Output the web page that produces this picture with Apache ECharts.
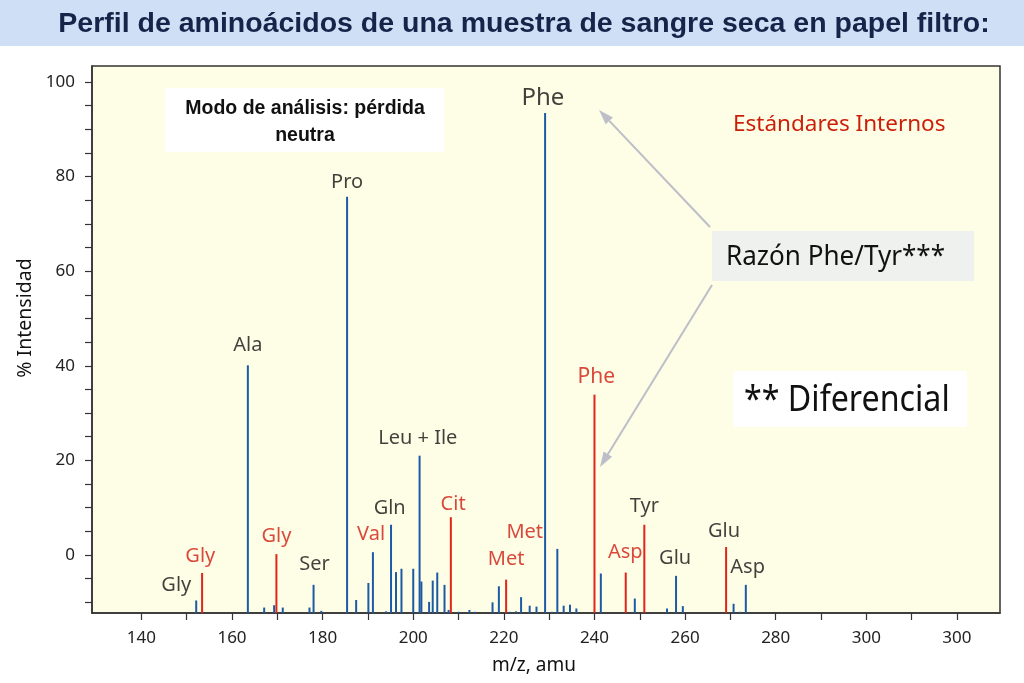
<!DOCTYPE html>
<html>
<head>
<meta charset="utf-8">
<title>Perfil de aminoácidos</title>
<script src="https://cdn.jsdelivr.net/npm/echarts@6/dist/echarts.min.js"></script>
<style>
html, body { margin: 0; padding: 0; background: #fff; }
#main { width: 1024px; height: 683px; }
</style>
</head>
<body>
<div id="main"></div>
<script>
// picos de la muestra (azul)
var sampleMz = [152.1, 163.5, 167.1, 169.3, 171.2, 177.1, 178.0, 179.7, 185.4, 187.4,
    190.1, 191.1, 194.0, 195.1, 196.2, 197.4, 200.0, 201.4, 201.8, 203.5,
    204.3, 205.3, 206.9, 207.8, 210.1, 212.4, 213.6, 217.5, 218.9, 221.3,
    222.7, 223.8, 225.7, 227.2, 229.1, 230.6, 231.8, 233.2, 234.6, 236.0,
    241.4, 248.9, 256.0, 258.0, 259.5, 270.7, 272.1, 273.4];
var sampleInt = [-9.6, 40.1, -11.1, -10.6, -11.1, -11.1, -6.3, -11.8, 75.7, -9.5,
    -5.9, 0.6, -11.9, 6.4, -3.6, -2.9, -2.9, 21.0, -5.6, -9.9,
    -5.4, -3.7, -6.3, -11.6, -12.0, -11.6, -12.0, -10.0, -6.6, -12.0,
    -11.9, -8.9, -10.7, -10.9, 93.4, -12.0, 1.3, -10.7, -10.5, -11.3,
    -3.9, -9.2, -11.3, -4.4, -10.8, -10.3, -12.0, -6.3];

// estandares internos (rojo)
var stdMz = [153.4, 169.8, 208.3, 220.5, 240.0, 246.9, 251.0, 269.05];
var stdInt = [-3.8, 0.2, 8.0, -5.2, 33.9, -3.7, 6.4, 1.7];

// etiquetas de los picos
var blackNames = ['Gly', 'Ser', 'Ala', 'Pro', 'Gln', 'Leu + Ile', 'Phe', 'Tyr', 'Glu', 'Glu', 'Asp'];
var blackMz = [147.7, 178.2, 163.5, 185.4, 194.8, 201.0, 228.6, 251.0, 257.8, 268.6, 273.8];
var blackY = [-6.3, -1.9, 44.4, 78.8, 9.8, 24.7, 96.5, 10.3, -0.6, 5.0, -2.6];
var redNames = ['Gly', 'Gly', 'Val', 'Cit', 'Met', 'Met', 'Phe', 'Asp'];
var redMz = [153.0, 169.8, 190.7, 208.8, 220.5, 224.6, 240.4, 246.8];
var redY = [-0.3, 3.9, 4.4, 10.8, -1.0, 4.9, 37.7, 0.6];

// ejes
var xTickValues = [140, 160, 180, 200, 220, 240, 260, 280, 300, 320];
var xTickLabels = ['140', '160', '180', '200', '220', '240', '260', '280', '300', '300'];
var yTickValues = [0, 20, 40, 60, 80, 100];
var xMin = 129.1, xMax = 329.5;
var yMin = -12.25, yMax = 103.35;

var xMinor = [];
for (var i = 140; i <= 320; i += 10) xMinor.push(i);
var yMinor = [];
for (var j = -10; j <= 100; j += 5) yMinor.push(j);

function zip(a, b, names) {
    var out = [];
    for (var k = 0; k < a.length; k++) {
        var d = { value: [a[k], b[k]] };
        if (names) d.name = names[k];
        out.push(d);
    }
    return out;
}

function stick(color) {
    return function (params, api) {
        var p0 = api.coord([api.value(0), yMin]);
        var p1 = api.coord([api.value(0), api.value(1)]);
        return {
            type: 'line',
            shape: { x1: p0[0], y1: p0[1], x2: p1[0], y2: p1[1] },
            style: { stroke: color, lineWidth: 2 }
        };
    };
}

function labelSeries(names, mz, y, color) {
    return {
        type: 'scatter',
        symbolSize: 0,
        silent: true,
        data: zip(mz, y, names),
        label: {
            show: true,
            position: 'inside',
            formatter: '{b}',
            color: color,
            fontFamily: 'Noto Sans',
            fontSize: 20
        },
        z: 5
    };
}

function arrow(x1, y1, x2, y2) {
    var dx = x2 - x1, dy = y2 - y1;
    var len = Math.sqrt(dx * dx + dy * dy);
    var ux = dx / len, uy = dy / len;
    var bx = x2 - ux * 15, by = y2 - uy * 15;
    return [
        { type: 'line', shape: { x1: x1, y1: y1, x2: bx, y2: by }, style: { stroke: '#bcbec8', lineWidth: 2 }, z: 10 },
        { type: 'polygon', shape: { points: [[x2, y2], [bx - uy * 5, by + ux * 5], [bx + uy * 5, by - ux * 5]] }, style: { fill: '#bcbec8' }, z: 10 }
    ];
}

var chart = echarts.init(document.getElementById('main'));

var blackSeries = labelSeries(blackNames, blackMz, blackY, '#111');
var redSeries = labelSeries(redNames, redMz, redY, '#d01c10');
blackSeries.data.forEach(function (d) { if (d.name === 'Phe') d.label = { fontSize: 24 }; });
redSeries.data.forEach(function (d) { if (d.name === 'Phe') d.label = { fontSize: 21 }; });

var graphics = [
    { type: 'rect', left: 0, top: 0, shape: { width: 1024, height: 46 }, style: { fill: '#cfe0f6' }, z: 1 },
    { type: 'text', x: 524, y: 24, style: { text: 'Perfil de aminoácidos de una muestra de sangre seca en papel filtro:', font: 'bold 28.5px "Liberation Sans", Arial, sans-serif', fill: '#17244a', align: 'center', verticalAlign: 'middle' }, z: 2 },
    { type: 'text', x: 25, y: 318, rotation: Math.PI / 2, style: { text: '% Intensidad', font: '19.5px "Noto Sans"', fill: '#111', align: 'center', verticalAlign: 'middle' } },
    { type: 'rect', x: 165, y: 88, shape: { width: 279, height: 64 }, style: { fill: '#fff' }, z: 10 },
    { type: 'text', x: 305, y: 122, style: { text: 'Modo de análisis: pérdida\nneutra', font: 'bold 19.5px "Liberation Sans", Arial, sans-serif', fill: '#111', align: 'center', verticalAlign: 'middle', lineHeight: 27 }, z: 11 },
    { type: 'text', x: 733, y: 125, style: { text: 'Estándares Internos', font: '22.5px "Noto Sans"', fill: '#cc1f0a', align: 'left', verticalAlign: 'middle' }, z: 11 },
    { type: 'rect', x: 712, y: 231, shape: { width: 262, height: 50 }, style: { fill: '#eef1ee' }, z: 10 },
    { type: 'text', x: 726, y: 257, scaleX: 0.965, style: { text: 'Razón Phe/Tyr***', font: '27px "Noto Sans"', fill: '#111', align: 'left', verticalAlign: 'middle' }, z: 11 },
    { type: 'rect', x: 733, y: 371, shape: { width: 234, height: 56 }, style: { fill: '#fff' }, z: 10 },
    { type: 'text', x: 744, y: 400, scaleX: 0.87, style: { text: '** Diferencial', font: '37px "Noto Sans"', fill: '#111', align: 'left', verticalAlign: 'middle' }, z: 11 }
].concat(arrow(710, 227, 599, 110), arrow(712, 285, 600, 467));

var option = {
    animation: false,
    backgroundColor: '#fff',
    grid: {
        left: 92,
        right: 24,
        top: 66,
        bottom: 70,
        show: true,
        backgroundColor: '#fefde6',
        borderColor: '#333',
        borderWidth: 1.5
    },
    xAxis: {
        type: 'value',
        min: xMin,
        max: xMax,
        name: 'm/z, amu',
        nameLocation: 'middle',
        nameGap: 43,
        nameTextStyle: { fontFamily: 'Noto Sans', fontSize: 19, color: '#111', padding: [0, 24, 0, 0] },
        splitLine: { show: false },
        axisLine: { show: true, onZero: false, lineStyle: { color: '#333', width: 1.5 } },
        axisTick: { show: true, customValues: xMinor, length: 7, lineStyle: { color: '#333', width: 1.2 } },
        axisLabel: {
            customValues: xTickValues,
            margin: 17,
            fontFamily: 'Noto Sans',
            fontSize: 17,
            color: '#222',
            formatter: function (v) {
                var k = xTickValues.indexOf(Math.round(v));
                return k >= 0 ? xTickLabels[k] : '';
            }
        }
    },
    yAxis: {
        type: 'value',
        min: yMin,
        max: yMax,
        splitLine: { show: false },
        axisLine: { show: true, lineStyle: { color: '#333', width: 1.5 } },
        axisTick: { show: true, customValues: yMinor, length: 7, lineStyle: { color: '#333', width: 1.2 } },
        axisLabel: {
            customValues: yTickValues,
            margin: 17,
            fontFamily: 'Noto Sans',
            fontSize: 17,
            color: '#222'
        }
    },
    graphic: graphics,
    series: [
        { type: 'custom', renderItem: stick('#1d5aa6'), data: zip(sampleMz, sampleInt), clip: true, z: 3 },
        { type: 'custom', renderItem: stick('#e3241b'), data: zip(stdMz, stdInt), clip: true, z: 4 },
        blackSeries,
        redSeries
    ]
};

chart.setOption(option);
</script>
</body>
</html>
